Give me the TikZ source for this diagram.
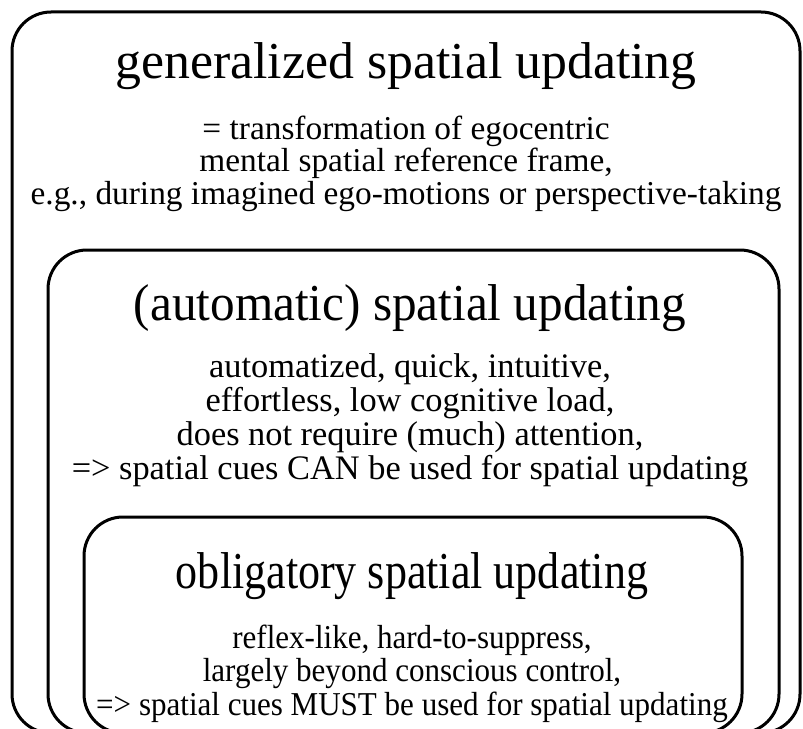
\documentclass[tikz,border=0pt]{standalone}
\usepackage{fontspec}
\setmainfont{Liberation Serif}
\newfontfamily\midfont[FakeStretch=0.95]{Liberation Serif}
\newfontfamily\innerhead[FakeStretch=0.85]{Liberation Serif}
\newfontfamily\innerbody[FakeStretch=0.93]{Liberation Serif}
\usetikzlibrary{positioning}

\begin{document}
\begin{tikzpicture}[x=1bp, y=-1bp,
  frame/.style={draw, line width=3bp, rounded corners=39bp},
  head/.style={font=\fontsize{52}{56}\selectfont, inner sep=0pt},
  body/.style={font=\fontsize{33.5}{33}\selectfont, align=center, inner sep=0pt}]
  \useasboundingbox (0,0) rectangle (803,729);
  \begin{scope}
    \clip (0,0) rectangle (803,729);
    \draw[frame] (12,12) rectangle (800,733);
    \draw[frame] (48,250) rectangle (779,733);
    \draw[frame] (84,517) rectangle (742,733);
  \end{scope}
  % outer level
  \node[head, anchor=base] (gentitle) at (406,79) {generalized spatial updating};
  \node[body, below=25bp of gentitle] (gentext) {= transformation of egocentric\\ mental spatial reference frame,\\ e.g., during imagined ego-motions or perspective-taking};
  % middle level
  \node[head, font=\midfont\fontsize{52}{56}\selectfont, anchor=base] (autotitle) at (410,320) {(automatic) spatial updating};
  \node[body, font=\fontsize{34.5}{34.3}\selectfont, below=22bp of autotitle] (autotext) {automatized, quick, intuitive,\\ effortless, low cognitive load,\\ does not require (much) attention,\\ => spatial cues CAN be used for spatial updating};
  % inner level
  \node[head, font=\innerhead\fontsize{52}{56}\selectfont, anchor=base] (obltitle) at (412,588) {obligatory spatial updating};
  \node[body, font=\innerbody\fontsize{33.5}{34}\selectfont, below=25bp of obltitle] (obltext) {reflex-like, hard-to-suppress,\\ largely beyond conscious control,\\ => spatial cues MUST be used for spatial updating};
\end{tikzpicture}
\end{document}
